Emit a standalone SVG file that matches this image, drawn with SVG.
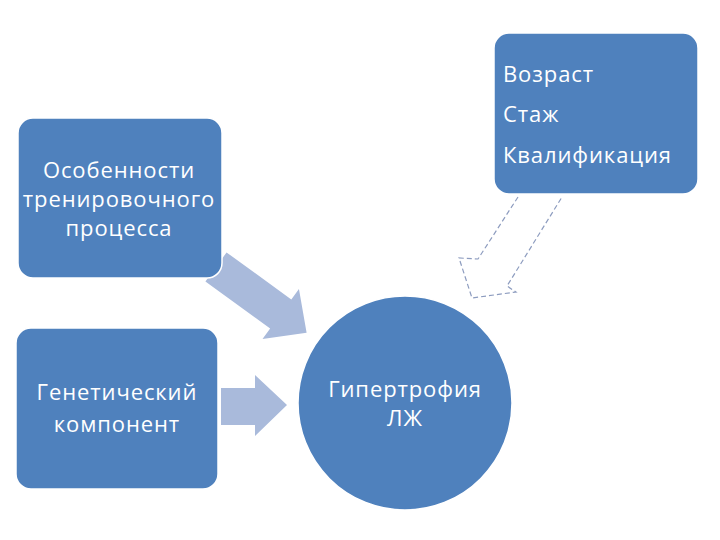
<svg xmlns="http://www.w3.org/2000/svg" width="720" height="540" viewBox="0 0 720 540">
<style>
.node{fill:#4F81BD;stroke:#ffffff;stroke-width:1.5}
.t{fill:#ffffff;font-family:"Open Sans","DejaVu Sans",sans-serif;font-size:22px;letter-spacing:0.9px}
.c{text-anchor:middle}
.arr{fill:#A9BADB}
.dash{fill:none;stroke:#8D9CBF;stroke-width:1.2;stroke-dasharray:5 3}
</style>
<rect width="720" height="540" fill="#ffffff"/>
<g id="connectors">
<polygon class="arr" transform="translate(216,267) rotate(36)" points="0,-18 80,-18 80,-31 112,0 80,31 80,18 0,18"/>
<polygon class="arr" points="221,388 255,388 255,375 287,405 255,436 255,425 221,425"/>
<polyline class="dash" points="518,197 478,259 459,258 472,298 516,292 507,286 562,197"/>
</g>
<g id="node-top-right">
<rect class="node" x="494" y="33" width="204" height="161" rx="15"/>
<text class="t" x="503" y="82">Возраст</text>
<text class="t" x="503" y="122">Стаж</text>
<text class="t" x="503" y="163">Квалификация</text>
</g>
<g id="node-training">
<rect class="node" x="18" y="118" width="204" height="160" rx="15"/>
<text class="t c" x="119" y="178">Особенности</text>
<text class="t c" x="119" y="207">тренировочного</text>
<text class="t c" x="119" y="236">процесса</text>
</g>
<g id="node-genetic">
<rect class="node" x="16" y="328" width="202" height="161" rx="15"/>
<text class="t c" x="117" y="400">Генетический</text>
<text class="t c" x="117" y="432">компонент</text>
</g>
<g id="node-hypertrophy">
<circle class="node" cx="405" cy="403" r="107"/>
<text class="t c" x="405" y="397">Гипертрофия</text>
<text class="t c" x="405" y="426">ЛЖ</text>
</g>
</svg>
